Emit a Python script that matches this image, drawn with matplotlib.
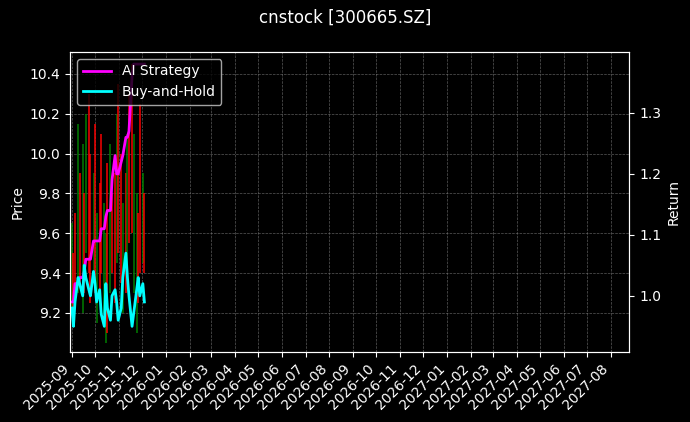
import matplotlib
matplotlib.use("Agg")
import matplotlib.pyplot as plt
import matplotlib.dates as mdates
import pandas as pd

dates = pd.bdate_range("2025-09-01", "2025-12-05")[::2]

highs = [9.65, 9.50, 9.70, 10.15, 9.90, 10.05, 9.80, 10.20, 10.30, 10.00, 9.90, 10.15,
         9.70, 9.85, 10.10, 9.75, 9.60, 9.95, 10.05, 9.80, 9.90, 10.20, 10.35, 10.00,
         9.75, 9.90, 10.10, 10.30, 10.45, 10.10, 9.80, 9.70, 10.25, 9.90, 9.80]
lows = [9.20, 9.15, 9.25, 9.30, 9.35, 9.20, 9.30, 9.50, 9.40, 9.25, 9.35, 9.30,
        9.15, 9.30, 9.40, 9.20, 9.05, 9.10, 9.30, 9.40, 9.25, 9.45, 9.50, 9.35,
        9.20, 9.30, 9.45, 9.55, 9.60, 9.30, 9.10, 9.25, 9.40, 9.45, 9.40]
up = [1, 0, 0, 1, 0, 1, 0, 1, 0, 0, 1, 0, 1, 0, 0, 1, 1, 0, 1, 0,
      0, 1, 0, 0, 1, 0, 1, 0, 0, 1, 1, 0, 0, 1, 0]

ai_return = [0.99, 0.99, 1.02, 1.02, 1.03, 1.03, 1.04, 1.06, 1.06, 1.06, 1.09, 1.09,
             1.09, 1.09, 1.11, 1.11, 1.13, 1.14, 1.14, 1.19, 1.23, 1.20, 1.20, 1.22,
             1.23, 1.26, 1.26, 1.27, 1.36, 1.38, 1.38, 1.38, 1.38, 1.38, 1.38]
bh_return = [0.98, 0.95, 0.99, 1.03, 1.02, 1.00, 1.05, 1.03, 1.01, 1.00, 1.04, 1.02,
             0.99, 1.01, 0.97, 0.95, 1.02, 0.98, 0.96, 1.00, 1.01, 0.99, 0.96, 0.98,
             1.03, 1.07, 1.03, 1.00, 0.95, 0.97, 1.01, 1.03, 1.00, 1.02, 0.99]

plt.style.use("dark_background")
fig, ax = plt.subplots(figsize=(6.9, 4.22), dpi=100)
fig.subplots_adjust(left=0.102, right=0.912, top=0.877, bottom=0.166)

for d, h, l, u in zip(dates, highs, lows, up):
    ax.vlines(d, l, h, color="green" if u else "red", linewidth=1.2, alpha=0.9)
ax.set_ylim(9.004, 10.51)
ax.set_ylabel("Price")
ax.grid(True, color="gray", linestyle="--", linewidth=0.5, alpha=0.7)

ax2 = ax.twinx()
ax2.plot(dates, ai_return, color="magenta", linewidth=2, label="AI Strategy")
ax2.plot(dates, bh_return, color="cyan", linewidth=2, label="Buy-and-Hold")
ax2.set_ylim(0.908, 1.40)
ax2.set_yticks([1.0, 1.1, 1.2, 1.3])
ax2.set_ylabel("Return")
ax2.legend(loc="upper left")

ax.set_xlim(pd.Timestamp("2025-08-30"), pd.Timestamp("2027-08-25"))
ax.xaxis.set_major_locator(mdates.MonthLocator())
ax.xaxis.set_major_formatter(mdates.DateFormatter("%Y-%m"))
plt.setp(ax.get_xticklabels(), rotation=45, ha="right")

fig.suptitle("cnstock [300665.SZ]")
fig.savefig("out.png")
